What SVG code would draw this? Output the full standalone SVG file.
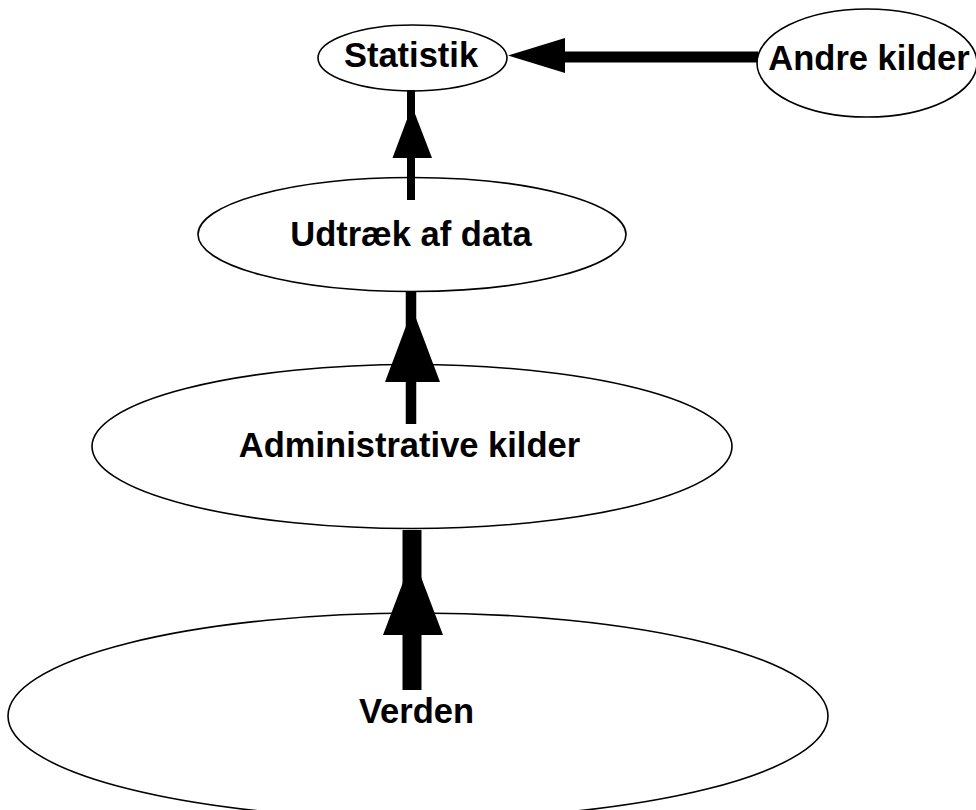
<svg xmlns="http://www.w3.org/2000/svg" width="976" height="810" viewBox="0 0 976 810">
<style>
.n ellipse{fill:#fff;stroke:#000;stroke-width:1.6}
.n text{font-family:"Liberation Sans",Arial,sans-serif;font-weight:bold;font-size:34.5px;text-anchor:middle;fill:#000}
.c line{stroke:#000}
.c polygon{fill:#000}
</style>
<rect width="976" height="810" fill="#fff"/>
<g id="verden" class="n"><ellipse cx="418" cy="716" rx="410" ry="103"/><text x="416.5" y="723">Verden</text></g>
<g id="admin" class="n"><ellipse cx="412" cy="446.5" rx="320" ry="82"/><text x="409.5" y="457">Administrative kilder</text></g>
<g id="udtraek" class="n"><ellipse cx="412" cy="234.5" rx="214" ry="57"/><text x="411" y="246">Udtræk af data</text></g>
<g id="statistik" class="n"><ellipse cx="412.5" cy="58" rx="94.5" ry="33"/><text x="411" y="67">Statistik</text></g>
<g id="andre" class="n"><ellipse cx="867" cy="63" rx="110" ry="54"/><text x="869" y="70">Andre kilder</text></g>
<g id="connectors" class="c">
<line x1="412" y1="690" x2="412" y2="530" stroke-width="19"/>
<polygon points="413,556 383,635 443,635"/>
<line x1="411" y1="424" x2="411" y2="292" stroke-width="10.5"/>
<polygon points="412.5,309 385,382 440,382"/>
<line x1="411" y1="200" x2="411" y2="90" stroke-width="8"/>
<polygon points="412,106 392.5,158 432,158"/>
<line x1="758" y1="57" x2="540" y2="57" stroke-width="11"/>
<polygon points="508,55.5 565,38 565,73"/>
</g>
</svg>
